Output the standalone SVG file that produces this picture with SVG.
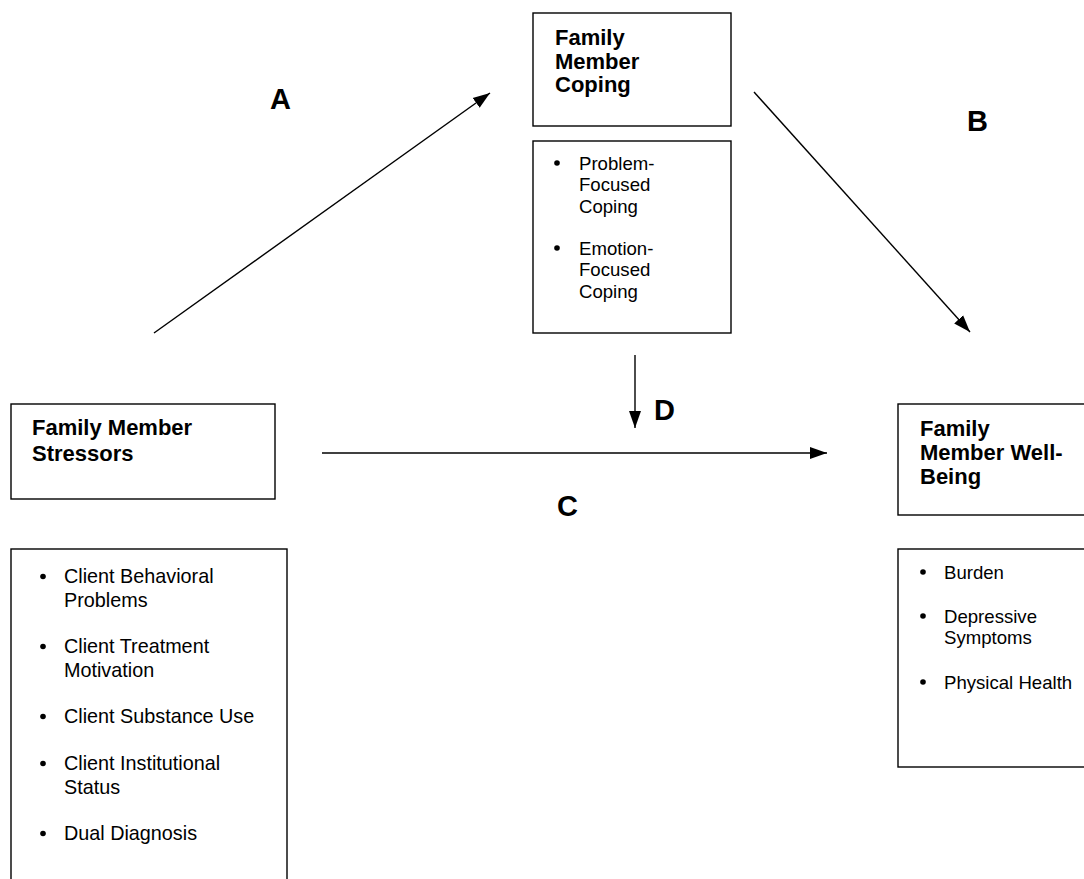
<svg xmlns="http://www.w3.org/2000/svg" width="1084" height="879" viewBox="0 0 1084 879">
<style>
.box{fill:#fff;stroke:#000;stroke-width:1.4}
.t{font-family:"Liberation Sans",Arial,sans-serif;font-weight:bold;font-size:22px;fill:#000}
.b{font-family:"Liberation Sans",Arial,sans-serif;font-size:18.6px;fill:#000}
.bl{font-family:"Liberation Sans",Arial,sans-serif;font-size:19.8px;fill:#000}
.lab{font-family:"Liberation Sans",Arial,sans-serif;font-weight:bold;font-size:29px;fill:#000}
.c{stroke:#000;stroke-width:1.4;fill:none;marker-end:url(#ah)}
</style>
<defs>
<marker id="ah" markerUnits="userSpaceOnUse" markerWidth="18" markerHeight="14" viewBox="0 0 18 14" refX="17" refY="7" orient="auto">
<path d="M0,1 L17,7 L0,13 Z" fill="#000"/>
</marker>
</defs>
<rect width="1084" height="879" fill="#fff"/>
<g id="coping">
<rect class="box" x="533" y="13" width="198" height="113"/>
<text class="t" x="555" y="45">Family</text>
<text class="t" x="555" y="68.5">Member</text>
<text class="t" x="555" y="92">Coping</text>
</g>
<g id="coping-list">
<rect class="box" x="533" y="141" width="198" height="192"/>
<circle cx="557" cy="163" r="2.8"/>
<text class="b" x="579" y="169.5">Problem-</text>
<text class="b" x="579" y="191">Focused</text>
<text class="b" x="579" y="212.5">Coping</text>
<circle cx="557" cy="248" r="2.8"/>
<text class="b" x="579" y="254.5">Emotion-</text>
<text class="b" x="579" y="276">Focused</text>
<text class="b" x="579" y="297.5">Coping</text>
</g>
<g id="stressors">
<rect class="box" x="11" y="404" width="264" height="95"/>
<text class="t" x="32" y="435">Family Member</text>
<text class="t" x="32" y="461">Stressors</text>
</g>
<g id="stressors-list">
<rect class="box" x="11" y="549" width="276" height="345"/>
<circle cx="43" cy="576.5" r="2.8"/>
<text class="bl" x="64" y="583">Client Behavioral</text>
<text class="bl" x="64" y="606.5">Problems</text>
<circle cx="43" cy="646.5" r="2.8"/>
<text class="bl" x="64" y="653">Client Treatment</text>
<text class="bl" x="64" y="676.5">Motivation</text>
<circle cx="43" cy="716.5" r="2.8"/>
<text class="bl" x="64" y="723">Client Substance Use</text>
<circle cx="43" cy="763.5" r="2.8"/>
<text class="bl" x="64" y="770">Client Institutional</text>
<text class="bl" x="64" y="793.5">Status</text>
<circle cx="43" cy="833.5" r="2.8"/>
<text class="bl" x="64" y="840">Dual Diagnosis</text>
</g>
<g id="wellbeing">
<rect class="box" x="898" y="404" width="200" height="111"/>
<text class="t" x="920" y="436">Family</text>
<text class="t" x="920" y="460">Member Well-</text>
<text class="t" x="920" y="484">Being</text>
</g>
<g id="wellbeing-list">
<rect class="box" x="898" y="549" width="200" height="218"/>
<circle cx="923" cy="572" r="2.8"/>
<text class="b" x="944" y="578.5">Burden</text>
<circle cx="923" cy="616" r="2.8"/>
<text class="b" x="944" y="622.5">Depressive</text>
<text class="b" x="944" y="644">Symptoms</text>
<circle cx="923" cy="682" r="2.8"/>
<text class="b" x="944" y="688.5">Physical Health</text>
</g>
<g id="connectors">
<line class="c" x1="154" y1="333" x2="490" y2="93"/>
<line class="c" x1="754" y1="92" x2="970" y2="332"/>
<line class="c" x1="322" y1="453" x2="827" y2="453"/>
<line class="c" x1="635" y1="355" x2="635" y2="428"/>
</g>
<g id="labels">
<text class="lab" x="270" y="109">A</text>
<text class="lab" x="967" y="131">B</text>
<text class="lab" x="557" y="516">C</text>
<text class="lab" x="654" y="420">D</text>
</g>
</svg>
